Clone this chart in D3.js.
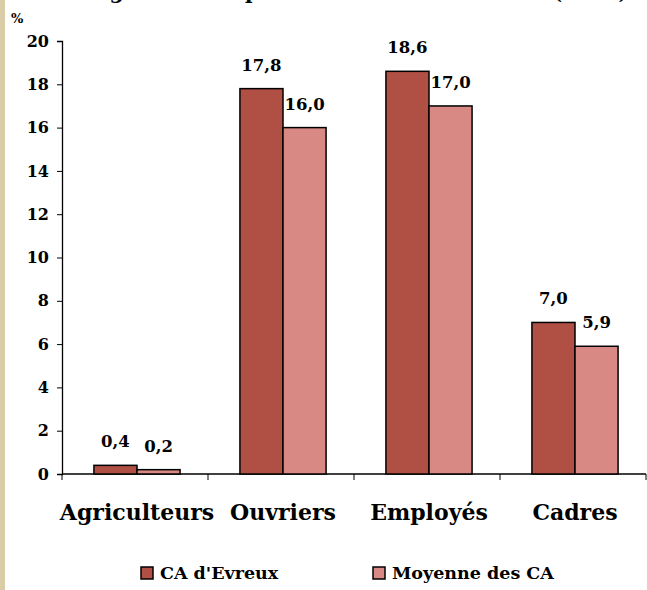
<!DOCTYPE html>
<html>
<head>
<meta charset="utf-8">
<script src="https://cdn.jsdelivr.net/npm/d3@7"></script>
<style>
  body { margin: 0; background: #fff; }
  text { font-family: "DejaVu Serif", "Liberation Serif", serif; font-weight: bold; fill: #000; }
</style>
</head>
<body>
<div id="chart"></div>
<script>
var categories = ['Agriculteurs', 'Ouvriers', 'Employés', 'Cadres'];
var seriesNames = ["CA d'Evreux", 'Moyenne des CA'];
var evreux = [0.4, 17.8, 18.6, 7.0];
var moyenne = [0.2, 16.0, 17.0, 5.9];
var yTicks = [0, 2, 4, 6, 8, 10, 12, 14, 16, 18, 20];
var titleText = 'Catégories socioprofessionnelles des actifs (2006)';

var width = 647, height = 590,
    colors = ['#b04f44', '#d98984'],
    fmt = function(v) { return v.toFixed(1).replace('.', ','); };

var svg = d3.select('#chart').append('svg')
    .attr('width', width)
    .attr('height', height);

// tan strip on the left edge
svg.append('rect')
    .attr('x', 0).attr('y', 0)
    .attr('width', 5).attr('height', height)
    .style('fill', '#d9cca6');

// title, cropped by the top of the picture (as in the source)
svg.append('text')
    .attr('x', 58).attr('y', -1)
    .attr('textLength', 570)
    .attr('lengthAdjust', 'spacingAndGlyphs')
    .style('font-size', '20px')
    .text(titleText);

var x = d3.scaleBand()
    .domain(categories)
    .range([62, 646])
    .paddingInner(0.41)
    .paddingOuter(0.205);

var x1 = d3.scaleBand()
    .domain(d3.range(seriesNames.length))
    .range([0, x.bandwidth()]);

var y = d3.scaleLinear()
    .domain([0, 20])
    .range([474, 41]);

// y axis
var yAxis = svg.append('g')
    .attr('transform', 'translate(62,0)')
    .call(d3.axisLeft(y).tickValues(yTicks).tickSize(5).tickPadding(8));
yAxis.select('.domain').attr('stroke', '#000').attr('stroke-width', 1.3);
yAxis.selectAll('.tick line').attr('stroke', '#000');
yAxis.selectAll('.tick text')
    .style('font-size', '16px')
    .style('font-family', '"DejaVu Serif", serif')
    .style('font-weight', 'bold')
    .attr('fill', '#000');

svg.append('text')
    .attr('x', 11).attr('y', 23)
    .style('font-size', '13px')
    .text('%');

// x axis line with ticks at category boundaries
var step = x.step();
var bounds = d3.range(categories.length + 1).map(function(i) { return 62 + i * step; });
svg.append('line')
    .attr('x1', 62).attr('x2', 646)
    .attr('y1', y(0)).attr('y2', y(0))
    .attr('stroke', '#000').attr('stroke-width', 1.3);
svg.selectAll('.xtick')
    .data(bounds)
    .enter()
    .append('line')
    .attr('class', 'xtick')
    .attr('x1', function(d) { return d; })
    .attr('x2', function(d) { return d; })
    .attr('y1', y(0)).attr('y2', y(0) + 6)
    .attr('stroke', '#000');

// bars
var rows = categories.map(function(c, i) {
    return { cat: c, vals: [evreux[i], moyenne[i]] };
});

var groups = svg.selectAll('.grp')
    .data(rows)
    .enter()
    .append('g')
    .attr('class', 'grp')
    .attr('transform', function(d) { return 'translate(' + (x(d.cat) + 2) + ',0)'; });

groups.selectAll('rect')
    .data(function(d) { return d.vals; })
    .enter()
    .append('rect')
    .attr('x', function(d, i) { return x1(i); })
    .attr('y', function(d) { return y(d); })
    .attr('width', x1.bandwidth())
    .attr('height', function(d) { return y(0) - y(d); })
    .style('fill', function(d, i) { return colors[i]; })
    .style('stroke', '#000')
    .style('stroke-width', '1.5px');

groups.selectAll('.val')
    .data(function(d) { return d.vals; })
    .enter()
    .append('text')
    .attr('class', 'val')
    .attr('x', function(d, i) { return x1(i) + x1.bandwidth() / 2; })
    .attr('y', function(d) { return y(d) - 18; })
    .attr('text-anchor', 'middle')
    .style('font-size', '16.5px')
    .text(function(d) { return fmt(d); });

// category labels
svg.selectAll('.cat')
    .data(categories)
    .enter()
    .append('text')
    .attr('class', 'cat')
    .attr('x', function(d) { return x(d) + x.bandwidth() / 2 + 2; })
    .attr('y', 520)
    .attr('text-anchor', 'middle')
    .style('font-size', '22px')
    .text(function(d) { return d; });

// legend
var legendX = [141, 373];
var legend = svg.selectAll('.leg')
    .data(seriesNames)
    .enter()
    .append('g')
    .attr('class', 'leg')
    .attr('transform', function(d, i) { return 'translate(' + legendX[i] + ',567)'; });

legend.append('rect')
    .attr('width', 12).attr('height', 12)
    .style('fill', function(d, i) { return colors[i]; })
    .style('stroke', '#000')
    .style('stroke-width', '1.5px');

legend.append('text')
    .attr('x', 19).attr('y', 12)
    .style('font-size', '17.5px')
    .text(function(d) { return d; });
</script>
</body>
</html>
